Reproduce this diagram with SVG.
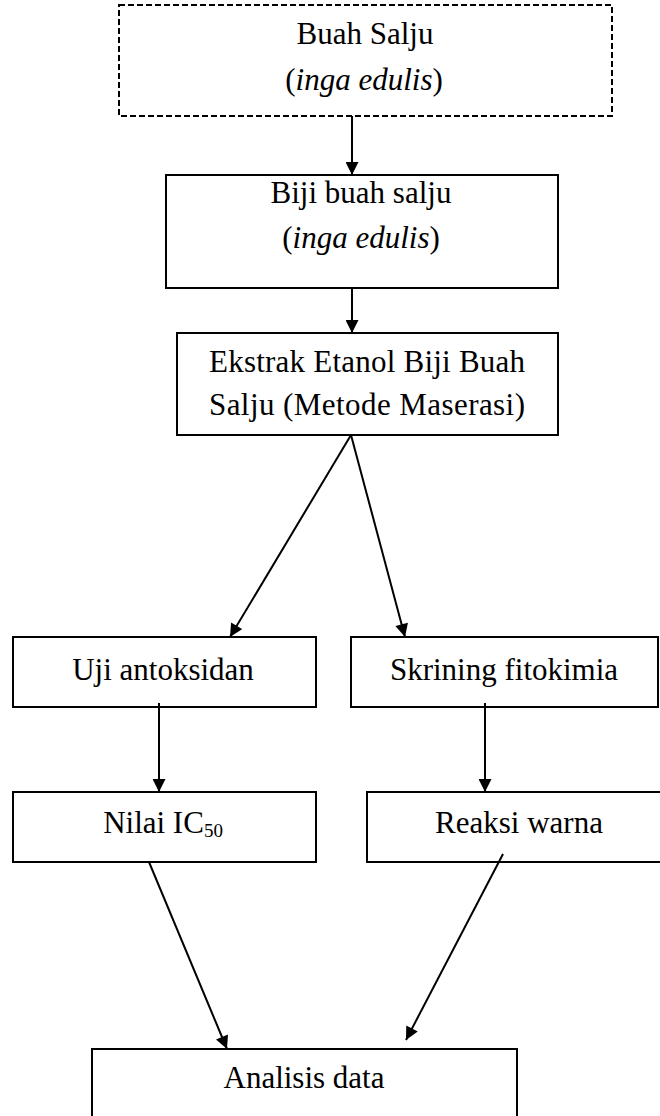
<svg xmlns="http://www.w3.org/2000/svg" width="660" height="1116" viewBox="0 0 660 1116">
<style>
.box{fill:#fff;stroke:#000;stroke-width:2}
.dash{stroke-dasharray:6 3}
.t{font-family:"Liberation Serif","Times New Roman",serif;font-size:31px;fill:#000;text-anchor:middle}
.j{text-anchor:start}
.c{stroke:#000;stroke-width:2;fill:none;marker-end:url(#ah)}
</style>
<defs>
<marker id="ah" viewBox="0 0 10 10" refX="10" refY="5" markerWidth="14" markerHeight="13" markerUnits="userSpaceOnUse" orient="auto">
<path d="M0,0 L10,5 L0,10 z" fill="#000"/>
</marker>
</defs>
<rect width="660" height="1116" fill="#fff"/>
<g id="n1">
<rect class="box dash" x="119" y="5" width="493" height="111"/>
<text class="t" x="365" y="44">Buah Salju</text>
<text class="t" x="364" y="90">(<tspan font-style="italic">inga edulis</tspan>)</text>
</g>
<g id="n2">
<rect class="box" x="166" y="175" width="392" height="113"/>
<text class="t" x="361" y="203">Biji buah salju</text>
<text class="t" x="361" y="248">(<tspan font-style="italic">inga edulis</tspan>)</text>
</g>
<g id="n3">
<rect class="box" x="177" y="333" width="381" height="102"/>
<text class="t j" x="209" y="372" textLength="316" lengthAdjust="spacing">Ekstrak Etanol Biji Buah</text>
<text class="t j" x="209" y="415" textLength="316" lengthAdjust="spacing">Salju (Metode Maserasi)</text>
</g>
<g id="n4">
<rect class="box" x="13" y="637" width="303" height="70"/>
<text class="t" x="163" y="680">Uji antoksidan</text>
</g>
<g id="n5">
<rect class="box" x="351" y="637" width="307" height="70"/>
<text class="t" x="504" y="680">Skrining fitokimia</text>
</g>
<g id="n6">
<rect class="box" x="13" y="792" width="303" height="70"/>
<text class="t" x="163" y="833">Nilai IC<tspan font-size="19" dy="4">50</tspan></text>
</g>
<g id="n7">
<rect class="box" x="367" y="792" width="300" height="70"/>
<text class="t" x="519" y="833">Reaksi warna</text>
</g>
<g id="n8">
<rect class="box" x="92" y="1049" width="425" height="80"/>
<text class="t" x="304" y="1088">Analisis data</text>
</g>
<g id="connectors">
<line class="c" x1="352" y1="116" x2="352" y2="175"/>
<line class="c" x1="352" y1="288" x2="352" y2="333"/>
<line class="c" x1="351" y1="435" x2="230" y2="637"/>
<line class="c" x1="351" y1="435" x2="405" y2="637"/>
<line class="c" x1="159" y1="703" x2="159" y2="792"/>
<line class="c" x1="485" y1="703" x2="485" y2="792"/>
<line class="c" x1="149" y1="862" x2="227" y2="1049"/>
<line class="c" x1="503" y1="854" x2="406" y2="1040"/>
</g>
</svg>
